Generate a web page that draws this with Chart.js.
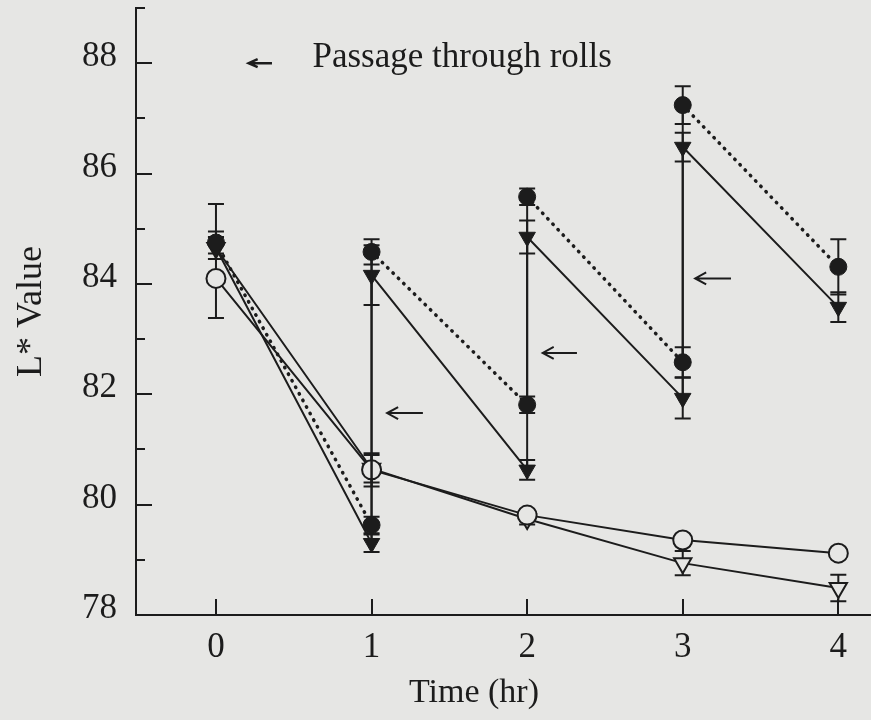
<!DOCTYPE html>
<html>
<head>
<meta charset="utf-8">
<script src="https://cdn.jsdelivr.net/npm/chart.js@4.4.1/dist/chart.umd.min.js"></script>
<style>
  html, body { margin: 0; padding: 0; background: #e6e6e4; }
  canvas { display: block; }
</style>
</head>
<body>
<canvas id="lChart" width="871" height="720"></canvas>
<script>
// hours: sawtooth series have a point before and after each pass through the rolls
const sawHours = [0, 1, 1, 2, 2, 3, 3, 4];
const hours = [0, 1, 2, 3, 4];

const filledCircle = [84.75, 79.63, 84.58, 81.81, 85.58, 82.58, 87.24, 84.31];
const filledCircleErr = [0.2, 0.15, 0.23, 0.15, 0.15, 0.27, 0.34, 0.5];
const filledTriangle = [84.65, 79.3, 84.16, 80.63, 84.85, 81.93, 86.48, 83.58];
const filledTriangleErr = [0.2, 0.16, 0.54, 0.18, 0.3, 0.37, 0.26, 0.27];
const openCircle = [84.1, 80.63, 79.81, 79.36, 79.12];
const openCircleErrUp = [1.35, 0.3, 0.1, 0.1, 0.1];
const openCircleErrDown = [0.72, 0.3, 0.1, 0.1, 0.1];
const openTriangle = [84.65, 80.65, 79.74, 78.94, 78.49];
const openTriangleErr = [0.2, 0.25, 0.1, 0.22, 0.24];

// arrows [xFrom, xTo, y] pointing at each passage
const arrows = [[1.10, 1.33, 81.66], [2.10, 2.32, 82.75], [3.08, 3.31, 84.1]];
const legendArrow = [0.21, 0.36, 88];
const legendText = 'Passage through rolls';
const legendTextX = 0.62;

const xTitle = 'Time (hr)';
const yTitle = 'L* Value';

const ink = '#1c1c1c';
const paper = '#e6e6e4';
const serif = 'Liberation Serif, Times New Roman, serif';

function pts(xs, ys) {
  return xs.map((x, i) => ({ x: x, y: ys[i] }));
}

function noPad(s) {
  s.paddingTop = 0; s.paddingBottom = 0;
  s.paddingLeft = 0; s.paddingRight = 0;
}

// [x, y, error up, error down]
const errSets = [
  [sawHours, filledCircle, filledCircleErr, filledCircleErr],
  [sawHours, filledTriangle, filledTriangleErr, filledTriangleErr],
  [hours, openCircle, openCircleErrUp, openCircleErrDown],
  [hours, openTriangle, openTriangleErr, openTriangleErr]
];

const extras = {
  id: 'extras',
  beforeDraw(chart) {
    const c = chart.ctx;
    c.save();
    c.fillStyle = paper;
    c.fillRect(0, 0, chart.width, chart.height);
    c.restore();
  },
  beforeDatasetsDraw(chart) {
    const c = chart.ctx, xs = chart.scales.x, ys = chart.scales.y;
    c.save();
    c.strokeStyle = ink;
    c.lineWidth = 2;
    // error bars
    errSets.forEach(([xv, yv, up, down]) => {
      xv.forEach((x, i) => {
        const px = xs.getPixelForValue(x);
        const top = ys.getPixelForValue(yv[i] + up[i]);
        const bot = ys.getPixelForValue(yv[i] - down[i]);
        c.beginPath();
        c.moveTo(px, top); c.lineTo(px, bot);
        c.moveTo(px - 8, top); c.lineTo(px + 8, top);
        c.moveTo(px - 8, bot); c.lineTo(px + 8, bot);
        c.stroke();
      });
    });
    c.restore();
  },
  afterDraw(chart) {
    const c = chart.ctx, xs = chart.scales.x, ys = chart.scales.y;
    const area = chart.chartArea;
    c.save();
    c.strokeStyle = ink;
    c.lineWidth = 2;
    // inward tick marks
    for (let v = ys.min; v <= ys.max; v++) {
      const py = Math.round(ys.getPixelForValue(v));
      const len = v % 2 === 0 ? 16 : 9;
      c.beginPath();
      c.moveTo(area.left, py); c.lineTo(area.left + len, py);
      c.stroke();
    }
    hours.forEach(h => {
      const px = Math.round(xs.getPixelForValue(h));
      c.beginPath();
      c.moveTo(px, area.bottom); c.lineTo(px, area.bottom - 16);
      c.stroke();
    });
    // arrows
    function arrow(a, head, spread) {
      const x0 = xs.getPixelForValue(a[0]);
      const x1 = xs.getPixelForValue(a[1]);
      const py = ys.getPixelForValue(a[2]);
      c.beginPath();
      c.moveTo(x1, py); c.lineTo(x0, py);
      c.moveTo(x0 + head, py - spread); c.lineTo(x0, py); c.lineTo(x0 + head, py + spread);
      c.stroke();
    }
    arrows.forEach(a => arrow(a, 11, 6));
    c.lineWidth = 2.5;
    arrow(legendArrow, 9, 4);
    // legend text and x title
    c.fillStyle = ink;
    c.font = '35px ' + serif;
    c.textAlign = 'left';
    c.textBaseline = 'alphabetic';
    c.fillText(legendText, xs.getPixelForValue(legendTextX), ys.getPixelForValue(88) + 4);
    c.font = '34px ' + serif;
    c.textAlign = 'center';
    c.fillText(xTitle, 474, 702);
    c.restore();
  }
};

const ctx = document.getElementById('lChart').getContext('2d');
const myChart = new Chart(ctx, {
  type: 'line',
  data: {
    datasets: [{
      label: 'filled circle',
      data: pts(sawHours, filledCircle),
      borderColor: ink,
      borderWidth: 3,
      borderCapStyle: 'round',
      segment: {
        borderDash: s => s.p0.parsed.x === s.p1.parsed.x ? [] : [0.5, 7],
        borderWidth: s => s.p0.parsed.x === s.p1.parsed.x ? 2 : 3.5
      },
      pointStyle: 'circle',
      pointRadius: 8.5,
      pointBackgroundColor: ink,
      pointBorderColor: ink,
      pointBorderWidth: 1
    }, {
      label: 'filled triangle',
      data: pts(sawHours, filledTriangle),
      borderColor: ink,
      borderWidth: 2,
      pointStyle: 'triangle',
      pointRotation: 180,
      pointRadius: 9.5,
      pointBackgroundColor: ink,
      pointBorderColor: ink,
      pointBorderWidth: 1
    }, {
      label: 'open circle',
      data: pts(hours, openCircle),
      borderColor: ink,
      borderWidth: 2,
      pointStyle: 'circle',
      pointRadius: 9.5,
      pointBackgroundColor: paper,
      pointBorderColor: ink,
      pointBorderWidth: 2
    }, {
      label: 'open triangle',
      data: pts(hours, openTriangle),
      borderColor: ink,
      borderWidth: 2,
      pointStyle: 'triangle',
      pointRotation: 180,
      pointRadius: 10,
      pointBackgroundColor: paper,
      pointBorderColor: ink,
      pointBorderWidth: 2
    }]
  },
  options: {
    responsive: false,
    animation: false,
    devicePixelRatio: 1,
    layout: { autoPadding: false, padding: { top: 8, right: 0, left: 0, bottom: 0 } },
    plugins: { legend: { display: false }, tooltip: { enabled: false } },
    scales: {
      x: {
        type: 'linear',
        min: -0.514,
        max: 4.21,
        afterFit: s => { s.height = 105; noPad(s); },
        grid: { display: false, drawTicks: false },
        border: { display: true, color: ink, width: 2 },
        ticks: {
          stepSize: 1,
          includeBounds: false,
          padding: 12,
          color: ink,
          font: { family: serif, size: 35 },
          maxRotation: 0
        }
      },
      y: {
        min: 78,
        max: 89,
        afterFit: s => { s.width = 136; noPad(s); },
        grid: { display: false, drawTicks: false },
        border: { display: true, color: ink, width: 2 },
        ticks: {
          stepSize: 1,
          padding: 19,
          labelOffset: -6,
          color: ink,
          font: { family: serif, size: 35 },
          callback: v => (v % 2 === 0 ? String(v) : null)
        },
        title: {
          display: true,
          text: yTitle,
          color: ink,
          font: { family: serif, size: 36 },
          padding: { top: 10, bottom: 0 }
        }
      }
    }
  },
  plugins: [extras]
});
</script>
</body>
</html>
